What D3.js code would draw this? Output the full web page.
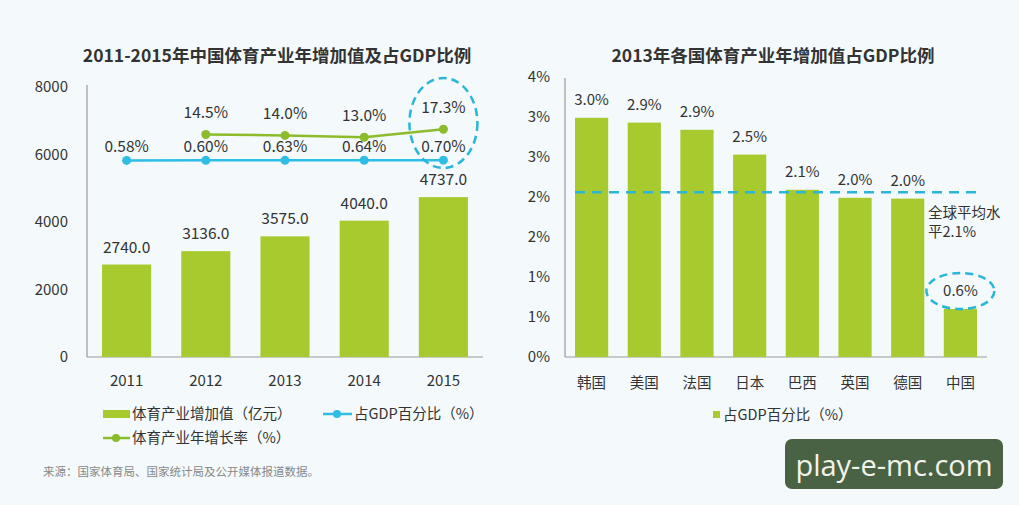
<!DOCTYPE html>
<html>
<head>
<meta charset="utf-8">
<script src="https://cdn.jsdelivr.net/npm/d3@7"></script>
<style>
body { margin: 0; background: #f4fafb; }
svg { display: block; font-family: "Noto Sans CJK SC", "Open Sans", sans-serif; }
</style>
</head>
<body>
<svg id="chart" width="1019" height="505"></svg>
<script>
// left chart data
var years = ["2011", "2012", "2013", "2014", "2015"];
var addValue = [2740.0, 3136.0, 3575.0, 4040.0, 4737.0];
var gdpShare = [0.58, 0.60, 0.63, 0.64, 0.70];
var growthYears = ["2012", "2013", "2014", "2015"];
var growthRate = [14.5, 14.0, 13.0, 17.3];
var leftTicks = [0, 2000, 4000, 6000, 8000];

// right chart data
var countries = ["韩国", "美国", "法国", "日本", "巴西", "英国", "德国", "中国"];
var countryShare = [2.99, 2.93, 2.84, 2.53, 2.09, 1.99, 1.98, 0.6];
var shareLabels = ["3.0%", "2.9%", "2.9%", "2.5%", "2.1%", "2.0%", "2.0%", "0.6%"];
var rightTicks = [0, 0.5, 1, 1.5, 2, 2.5, 3, 3.5];
var worldAvg = 2.06;

var barColor = "#a7cb2e", blue = "#2dbde5", green = "#8cbc2c", dashBlue = "#2bb5d8";
var textColor = "#333";

var svg = d3.select("#chart");

// titles
svg.append("text").attr("x", 277).attr("y", 62).attr("text-anchor", "middle")
	.style("font-size", "17.5px").style("font-weight", "bold").attr("fill", "#333")
	.text("2011-2015年中国体育产业年增加值及占GDP比例");
svg.append("text").attr("x", 773).attr("y", 62).attr("text-anchor", "middle")
	.style("font-size", "17.5px").style("font-weight", "bold").attr("fill", "#333")
	.text("2013年各国体育产业年增加值占GDP比例");

/* ---------- left chart ---------- */
var x1 = d3.scaleBand().domain(years).range([87, 483]).paddingInner(0.38).paddingOuter(0.19);
var y1 = d3.scaleLinear().domain([0, 8000]).range([357, 87]);
// secondary (hidden) axis for percentage lines
var y2 = d3.scaleLinear().domain([-105, 40]).range([357, 87]);

svg.append("line").attr("x1", 87).attr("x2", 87).attr("y1", 85).attr("y2", 357)
	.attr("stroke", "#999").attr("stroke-width", 1.2);
svg.append("line").attr("x1", 87).attr("x2", 483).attr("y1", 357).attr("y2", 357)
	.attr("stroke", "#999").attr("stroke-width", 1.2);

svg.selectAll(".ltick").data(leftTicks).enter().append("text")
	.attr("x", 68).attr("y", function(d) { return y1(d) + 5; })
	.attr("text-anchor", "end").style("font-size", "15px").attr("fill", textColor)
	.text(function(d) { return d; });

svg.selectAll(".lx").data(years).enter().append("text")
	.attr("x", function(d) { return x1(d) + x1.bandwidth() / 2; }).attr("y", 386)
	.attr("text-anchor", "middle").style("font-size", "15px").attr("fill", textColor)
	.text(function(d) { return d; });

svg.selectAll(".lbar").data(addValue).enter().append("rect")
	.attr("x", function(d, i) { return x1(years[i]); })
	.attr("y", function(d) { return y1(d); })
	.attr("width", x1.bandwidth())
	.attr("height", function(d) { return 357 - y1(d); })
	.attr("fill", barColor);

svg.selectAll(".lbarlab").data(addValue).enter().append("text")
	.attr("x", function(d, i) { return x1(years[i]) + x1.bandwidth() / 2; })
	.attr("y", function(d) { return y1(d) - 12; })
	.attr("text-anchor", "middle").style("font-size", "15.5px").attr("fill", textColor)
	.text(function(d) { return d.toFixed(1); });

var cx = function(d) { return x1(d) + x1.bandwidth() / 2; };
var line = d3.line().x(function(d) { return cx(d[0]); }).y(function(d) { return y2(d[1]); });

var gdpPts = years.map(function(d, i) { return [d, gdpShare[i]]; });
svg.append("path").datum(gdpPts).attr("d", line).attr("fill", "none")
	.attr("stroke", blue).attr("stroke-width", 2.5);
svg.selectAll(".gdot").data(gdpPts).enter().append("circle")
	.attr("cx", function(d) { return cx(d[0]); }).attr("cy", function(d) { return y2(d[1]); })
	.attr("r", 4.5).attr("fill", blue);
svg.selectAll(".glab").data(gdpPts).enter().append("text")
	.attr("x", function(d) { return cx(d[0]); }).attr("y", function(d) { return y2(d[1]) - 8; })
	.attr("text-anchor", "middle").style("font-size", "15.5px").attr("fill", textColor)
	.text(function(d) { return d[1].toFixed(2) + "%"; });

var grPts = growthYears.map(function(d, i) { return [d, growthRate[i]]; });
svg.append("path").datum(grPts).attr("d", line).attr("fill", "none")
	.attr("stroke", green).attr("stroke-width", 2.5);
svg.selectAll(".rdot").data(grPts).enter().append("circle")
	.attr("cx", function(d) { return cx(d[0]); }).attr("cy", function(d) { return y2(d[1]); })
	.attr("r", 4.5).attr("fill", green);
svg.selectAll(".rlab").data(grPts).enter().append("text")
	.attr("x", function(d) { return cx(d[0]); }).attr("y", function(d) { return y2(d[1]) - 16; })
	.attr("text-anchor", "middle").style("font-size", "15.5px").attr("fill", textColor)
	.text(function(d) { return d[1].toFixed(1) + "%"; });

svg.append("ellipse").attr("cx", cx("2015")).attr("cy", 123).attr("rx", 34).attr("ry", 45)
	.attr("fill", "none").attr("stroke", dashBlue).attr("stroke-width", 2.5)
	.attr("stroke-dasharray", "8,5");

// left legend
svg.append("rect").attr("x", 103).attr("y", 410).attr("width", 27).attr("height", 8).attr("fill", barColor);
svg.append("text").attr("x", 132).attr("y", 419).style("font-size", "14.5px").attr("fill", textColor)
	.text("体育产业增加值（亿元）");
svg.append("line").attr("x1", 323).attr("x2", 352).attr("y1", 414).attr("y2", 414)
	.attr("stroke", blue).attr("stroke-width", 2.5);
svg.append("circle").attr("cx", 337).attr("cy", 414).attr("r", 4).attr("fill", blue);
svg.append("text").attr("x", 354).attr("y", 419).style("font-size", "14.5px").attr("fill", textColor)
	.text("占GDP百分比（%）");
svg.append("line").attr("x1", 103).attr("x2", 130).attr("y1", 438).attr("y2", 438)
	.attr("stroke", green).attr("stroke-width", 2.5);
svg.append("circle").attr("cx", 116).attr("cy", 438).attr("r", 4).attr("fill", green);
svg.append("text").attr("x", 132).attr("y", 443).style("font-size", "14.5px").attr("fill", textColor)
	.text("体育产业年增长率（%）");

svg.append("text").attr("x", 43).attr("y", 476).style("font-size", "11.5px").attr("fill", "#888")
	.text("来源：国家体育局、国家统计局及公开媒体报道数据。");

/* ---------- right chart ---------- */
var x3 = d3.scaleBand().domain(countries).range([565, 987]).paddingInner(0.37).paddingOuter(0.19);
var y3 = d3.scaleLinear().domain([0, 3.5]).range([357, 77]);

svg.append("line").attr("x1", 565).attr("x2", 565).attr("y1", 78).attr("y2", 357)
	.attr("stroke", "#999").attr("stroke-width", 1.2);
svg.append("line").attr("x1", 565).attr("x2", 987).attr("y1", 357).attr("y2", 357)
	.attr("stroke", "#999").attr("stroke-width", 1.2);

svg.selectAll(".rtick").data(rightTicks).enter().append("text")
	.attr("x", 550).attr("y", function(d) { return y3(d) + 5; })
	.attr("text-anchor", "end").style("font-size", "15px").attr("fill", textColor)
	.text(function(d) { return Math.round(d + 0.001) + "%"; });

svg.selectAll(".rbar").data(countryShare).enter().append("rect")
	.attr("x", function(d, i) { return x3(countries[i]); })
	.attr("y", function(d) { return y3(d); })
	.attr("width", x3.bandwidth())
	.attr("height", function(d) { return 357 - y3(d); })
	.attr("fill", barColor);

svg.selectAll(".rx").data(countries).enter().append("text")
	.attr("x", function(d) { return x3(d) + x3.bandwidth() / 2; }).attr("y", 388)
	.attr("text-anchor", "middle").style("font-size", "14.5px").attr("fill", textColor)
	.text(function(d) { return d; });

svg.selectAll(".rbarlab").data(countryShare).enter().append("text")
	.attr("x", function(d, i) { return x3(countries[i]) + x3.bandwidth() / 2; })
	.attr("y", function(d) { return y3(d) - 13; })
	.attr("text-anchor", "middle").style("font-size", "15px").attr("fill", textColor)
	.text(function(d, i) { return shareLabels[i]; });

svg.append("line").attr("x1", 575).attr("x2", 980).attr("y1", y3(worldAvg)).attr("y2", y3(worldAvg))
	.attr("stroke", dashBlue).attr("stroke-width", 2.5).attr("stroke-dasharray", "10,7");
svg.append("text").attr("x", 928).attr("y", 218).style("font-size", "14.5px").attr("fill", textColor)
	.text("全球平均水");
svg.append("text").attr("x", 928).attr("y", 237).style("font-size", "14.5px").attr("fill", textColor)
	.text("平2.1%");

svg.append("ellipse").attr("cx", x3("中国") + x3.bandwidth() / 2).attr("cy", 291).attr("rx", 34).attr("ry", 18)
	.attr("fill", "none").attr("stroke", dashBlue).attr("stroke-width", 2.5)
	.attr("stroke-dasharray", "8,5");

svg.append("rect").attr("x", 713).attr("y", 411).attr("width", 7).attr("height", 7).attr("fill", barColor);
svg.append("text").attr("x", 723).attr("y", 420).style("font-size", "14.5px").attr("fill", textColor)
	.text("占GDP百分比（%）");

// watermark
svg.append("rect").attr("x", 785).attr("y", 439).attr("width", 218).attr("height", 50).attr("rx", 7)
	.attr("fill", "#4a6244");
svg.append("text").attr("x", 894).attr("y", 476).attr("text-anchor", "middle")
	.style("font-family", "'Open Sans', sans-serif").style("font-size", "29px").attr("fill", "#f2f2ea")
	.text("play-e-mc.com");
</script>
</body>
</html>
